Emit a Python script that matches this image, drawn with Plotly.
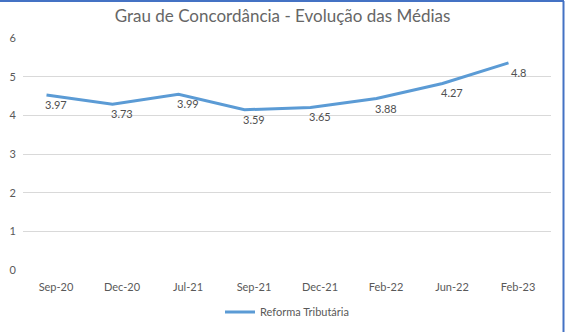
import plotly.graph_objects as go

# Survey averages per wave
periodos = ["Sep-20", "Dec-20", "Jul-21", "Sep-21", "Dec-21", "Feb-22", "Jun-22", "Feb-23"]
medias = [3.97, 3.73, 3.99, 3.59, 3.65, 3.88, 4.27, 4.8]
serie = "Reforma Tributária"
y_ticks = [0, 1, 2, 3, 4, 5, 6]

W, H = 565, 332
L, R, T, B = 23, 14, 38, 62
plot_w, plot_h = W - L - R, H - T - B

# The line layer sits on a duplicate axis pair, nudged up and to the left of the labelled grid
dx_cat = 9.5 / (plot_w / len(periodos))
dy_val = 0.555

FONT = "Lato, 'Open Sans', sans-serif"
GREY = "#595959"
BLUE = "#5B9BD5"

fig = go.Figure()
# Anchor trace for the labelled grid (draws nothing itself)
fig.add_trace(go.Scatter(
    x=periodos, y=medias, mode="none", showlegend=False, hoverinfo="skip",
))
fig.add_trace(go.Scatter(
    x=periodos, y=medias, mode="lines", name=serie,
    line=dict(color=BLUE, width=3),
    xaxis="x2", yaxis="y2", hoverinfo="skip",
))

for p, v in zip(periodos, medias):
    fig.add_annotation(
        x=p, y=v, xref="x", yref="y2", text=f"{v:g}", showarrow=False,
        yshift=-9.5, font=dict(family=FONT, size=11, color="#505050"),
    )

def px_x(px):
    return (px - L) / plot_w

def px_y(py):
    return (H - B - py) / plot_h

# Frame edges
frame = "#4472C4"
fig.add_shape(type="line", xref="paper", yref="paper",
              x0=px_x(0), x1=px_x(564), y0=px_y(1), y1=px_y(1),
              line=dict(color=frame, width=2))
fig.add_shape(type="line", xref="paper", yref="paper",
              x0=px_x(563.5), x1=px_x(563.5), y0=px_y(1), y1=px_y(H),
              line=dict(color=frame, width=2))

fig.update_layout(
    width=W, height=H,
    margin=dict(l=L, r=R, t=T, b=B, autoexpand=False),
    paper_bgcolor="white", plot_bgcolor="white",
    font=dict(family=FONT, color=GREY),
    title=dict(text="Grau de Concordância - Evolução das Médias",
               x=0.5, xref="container", xanchor="center",
               y=1 - 16 / H, yanchor="middle",
               font=dict(family=FONT, size=17, color="#666666")),
    xaxis=dict(type="category", categoryorder="array", categoryarray=periodos,
               range=[-0.5, len(periodos) - 0.5], showgrid=False, zeroline=False,
               showline=False, ticks="", tickfont=dict(size=11, color=GREY),
               ticklabelstandoff=9, automargin=False),
    yaxis=dict(range=[0, 6], tickvals=y_ticks, showgrid=True, gridcolor="#D9D9D9",
               gridwidth=1, zeroline=False, showline=False, ticks="",
               tickfont=dict(size=11, color=GREY), ticklabelstandoff=6,
               automargin=False),
    xaxis2=dict(type="category", categoryorder="array", categoryarray=periodos,
                overlaying="x", range=[-0.5 + dx_cat, len(periodos) - 0.5 + dx_cat],
                visible=False),
    yaxis2=dict(overlaying="y", range=[-dy_val, 6 - dy_val], visible=False),
    showlegend=True,
    legend=dict(orientation="h", x=0.5, xanchor="center", y=px_y(312), yanchor="middle",
                font=dict(size=11, color=GREY), bgcolor="rgba(0,0,0,0)"),
)

fig.write_html("out.html")
